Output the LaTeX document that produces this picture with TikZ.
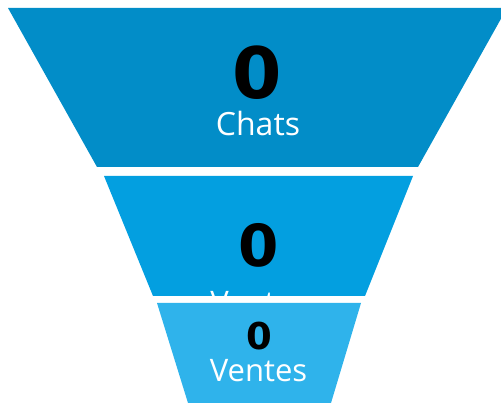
\documentclass[tikz,border=0pt]{standalone}
\usepackage{fontspec}
\setmainfont{Open Sans}
\newfontfamily\digitfont{DejaVu Sans}
\definecolor{stageone}{HTML}{028DC8}
\definecolor{stagetwo}{HTML}{039FE0}
\definecolor{stagethree}{HTML}{2FB3EB}
\tikzset{
  countlabel/.style={anchor=base,inner sep=0pt,text=black,font=\digitfont\bfseries},
  namelabel/.style={anchor=base,inner sep=0pt,text=white}
}
\begin{document}
\begin{tikzpicture}[x=1pt,y=-1pt]
      \useasboundingbox (0,0) rectangle (501,403);
      \clip (0,0) rectangle (501,403);
      % first stage
      \fill [stageone] (8,8) -- (507,8) -- (418,167) -- (97,167) -- cycle;
      \node [countlabel,font=\digitfont\bfseries\fontsize{71}{71}\selectfont] (chatsnum) at (257.5,98.5) {0};
      \node [namelabel,font=\fontsize{32}{32}\selectfont] (chatsname) at (258,136) {Chats};
      % second stage
      \fill [stagetwo] (104,176) -- (413,176) -- (365,296) -- (153,296) -- cycle;
      \node [countlabel,font=\digitfont\bfseries\fontsize{58}{58}\selectfont] (midnum) at (259,266.5) {0};
      \node [namelabel,font=\fontsize{31}{31}\selectfont] (midname) at (259,314) {Ventes};
      % third stage
      \fill [stagethree] (157,303) -- (361,303) -- (331,403) -- (188,403) -- cycle;
      \node [countlabel,font=\digitfont\bfseries\fontsize{37}{37}\selectfont] (salesnum) at (259.5,349.5) {0};
      \node [namelabel,font=\fontsize{31}{31}\selectfont] (salesname) at (258.5,382) {Ventes};
    \end{tikzpicture}
\end{document}
